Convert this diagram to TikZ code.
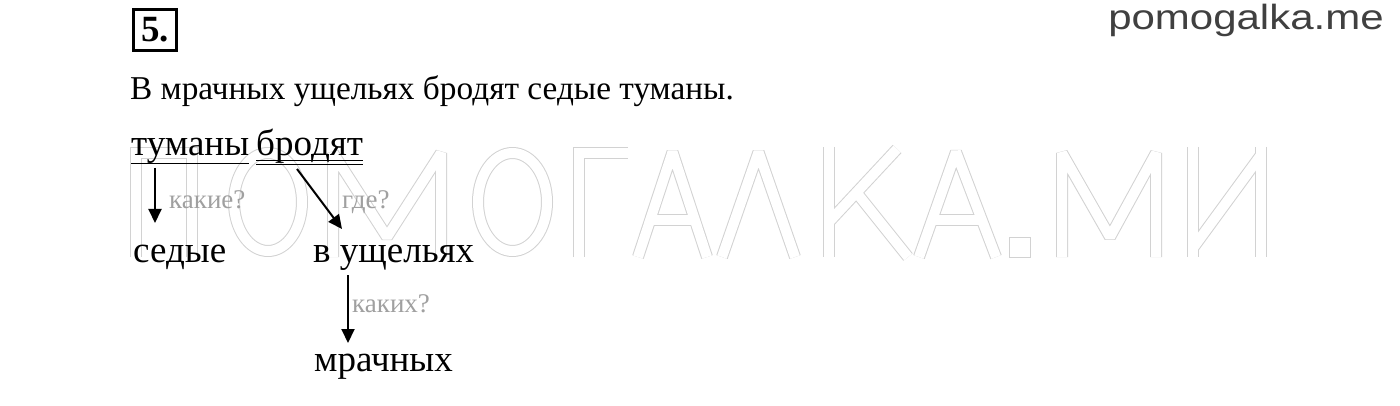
\documentclass[tikz,border=0pt]{standalone}
\usepackage{fontspec}
\setmainfont{Liberation Serif}
\newfontfamily\arialf{Liberation Sans}
\usetikzlibrary{arrows.meta}
\definecolor{wmgray}{HTML}{D2D2D2}
\definecolor{qgray}{HTML}{A0A0A0}
\definecolor{sitegray}{HTML}{404040}
\newcommand\wmletters[1]{%
  \begin{scope}[#1, line cap=butt, line join=bevel]
  % П
  \draw[line join=miter] (136,257)--(136,153)--(192,153)--(192,257);
  % О
  \draw (268,202) ellipse [x radius=34, y radius=49];
  % М
  \draw (333,257)--(333,153)--(387,237)--(441,153)--(441,257);
  % О
  \draw (512.5,202) ellipse [x radius=34.5, y radius=49];
  % Г
  \draw[line join=miter] (579,257)--(579,153)--(628,153);
  % А
  \draw (638,257)--(672.5,152)--(707,257);
  \draw (649,220)--(696,220);
  % Л
  \draw (722,257)--(758.5,152)--(795,257);
  % К
  \draw (829,147)--(829,257);
  \draw (829,222)--(897,149);
  \draw (856,192)--(908,257);
  % А
  \draw (919,257)--(956,152)--(996,257);
  \draw (931,220)--(983,220);
  % М
  \draw (1062,257)--(1062,153)--(1110,237)--(1156,153)--(1156,257);
  % И
  \draw (1193,147)--(1193,257);
  \draw (1261,147)--(1261,257);
  \draw (1193,248)--(1261,155);
  \end{scope}}
\begin{document}
\begin{tikzpicture}[x=1pt,y=-1pt,
  txt/.style={inner sep=0pt, anchor=base west, font=\fontsize{37}{40}\selectfont},
  qlabel/.style={inner sep=0pt, anchor=base west, text=qgray, font=\fontsize{27}{29}\selectfont},
  link/.style={line width=2pt, -{Triangle[length=14pt,width=13pt]}},
  uline/.style={line width=1.6pt},
  ]
\fill[white] (0,0) rectangle (1400,406);
\useasboundingbox (0,0) rectangle (1400,406);
% watermark
\wmletters{line width=12pt, draw=wmgray}
\fill[wmgray] (1009,237) rectangle (1031,258);
\wmletters{line width=10pt, draw=white}
\fill[white] (1010,238) rectangle (1030,257);
% header
\node[draw, line width=3pt, minimum width=43pt, minimum height=41pt, inner sep=0pt,
  font=\fontsize{37}{40}\selectfont\bfseries] (num) at (155,30) {5.};
\node[inner sep=0pt, anchor=base west, text=sitegray, xscale=1.2,
  font=\arialf\fontsize{35}{38}\selectfont] (site) at (1108,30) {pomogalka.me};
% sentence
\node[txt, font=\fontsize{33.3}{36}\selectfont] (sent) at (130,100) {В мрачных ущельях бродят седые туманы.};
% words
\node[txt] (tum) at (131,156) {туманы};
\node[txt] (brod) at (256,156) {бродят};
\node[txt] (sed) at (133,262) {седые};
\node[txt] (vush) at (313,262) {в ущельях};
\node[txt] (mrach) at (314,371) {мрачных};
% underlines
\draw[uline] ([yshift=-7.5pt]tum.base west) -- ([yshift=-7.5pt]tum.base east);
\draw[uline] ([yshift=-4.5pt]brod.base west) -- ([yshift=-4.5pt]brod.base east);
\draw[uline] ([yshift=-8.5pt]brod.base west) -- ([yshift=-8.5pt]brod.base east);
% arrows
\draw[link] ([xshift=24pt,yshift=-12pt]tum.base west) -- ([xshift=22pt,yshift=39pt]sed.base west);
\draw[link] ([xshift=41pt,yshift=-13pt]brod.base west) -- ([xshift=29pt,yshift=33pt]vush.base west);
\draw[link] ([xshift=35pt,yshift=-13pt]vush.base west) -- ([xshift=34pt,yshift=28pt]mrach.base west);
% question labels
\node[qlabel] (q1) at (169,208) {какие?};
\node[qlabel] (q2) at (342,208) {где?};
\node[qlabel] (q3) at (352,312) {каких?};
\end{tikzpicture}
\end{document}
